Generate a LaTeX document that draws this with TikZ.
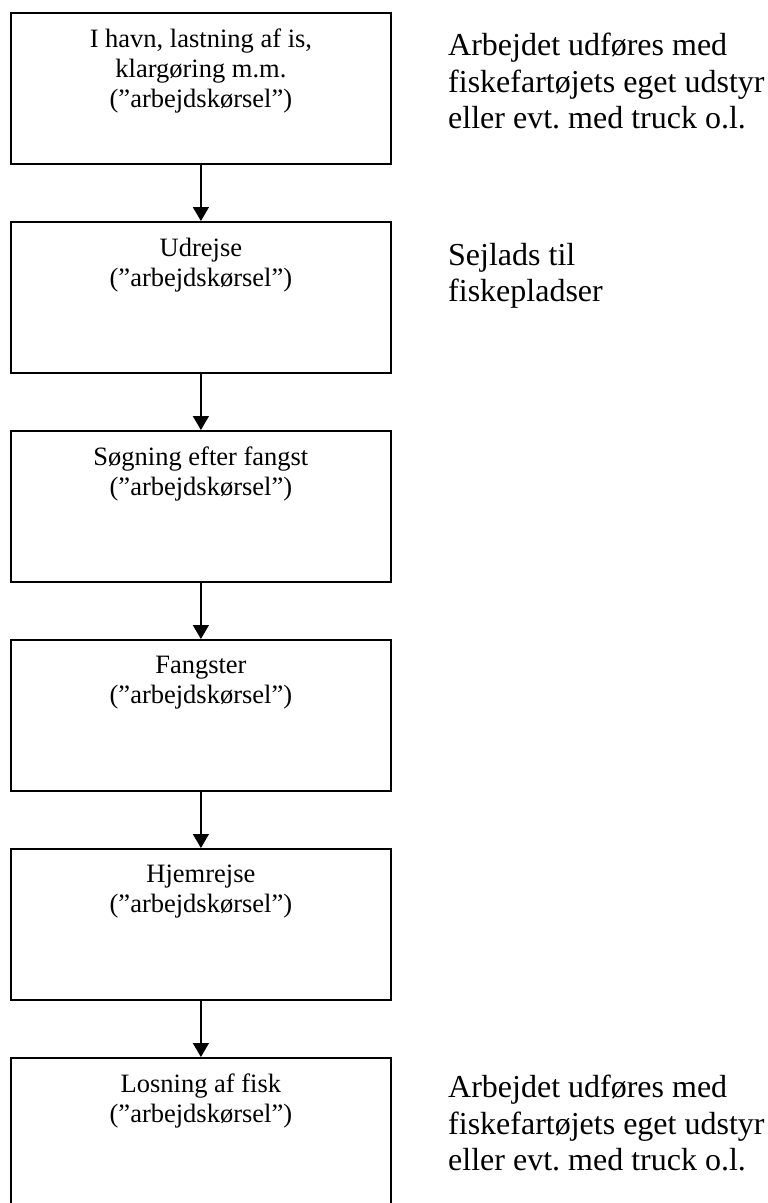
\documentclass[tikz,border=0pt]{standalone}
\usepackage{fontspec}
\setmainfont{Liberation Serif}
\usetikzlibrary{arrows.meta}
\frenchspacing

\tikzset{
  stepbox/.style={draw, line width=1.8pt, rectangle, minimum width=380pt,
    minimum height=151pt, anchor=north west, inner sep=0pt},
  boxtext/.style={anchor=north, align=center, inner sep=0pt,
    font=\fontsize{26.5pt}{30pt}\selectfont},
  sidetext/.style={anchor=north west, align=left, inner sep=0pt,
    font=\fontsize{32pt}{36.5pt}\selectfont},
  flow/.style={line width=1.4pt, -{Triangle[width=16pt,length=14pt]}}
}

\begin{document}
\begin{tikzpicture}[x=1pt,y=-1pt]
  \useasboundingbox (0,0) rectangle (768,1203);
  \begin{scope}
    \clip (0,0) rectangle (768,1203);

    % process boxes
    \node[stepbox] (b1) at (10,12)   {};
    \node[stepbox] (b2) at (10,221)  {};
    \node[stepbox] (b3) at (10,430)  {};
    \node[stepbox] (b4) at (10,639)  {};
    \node[stepbox] (b5) at (10,848)  {};
    \node[stepbox] (b6) at (10,1057) {};

    % box captions
    \node[boxtext] (t1) at ([yshift=-17pt]b1.north) {I havn, lastning af is,\\klargøring m.m.\\(”arbejdskørsel”)};
    \node[boxtext] (t2) at ([yshift=-17pt]b2.north) {Udrejse\\(”arbejdskørsel”)};
    \node[boxtext] (t3) at ([yshift=-17pt]b3.north) {Søgning efter fangst\\(”arbejdskørsel”)};
    \node[boxtext] (t4) at ([yshift=-17pt]b4.north) {Fangster\\(”arbejdskørsel”)};
    \node[boxtext] (t5) at ([yshift=-17pt]b5.north) {Hjemrejse\\(”arbejdskørsel”)};
    \node[boxtext] (t6) at ([yshift=-17pt]b6.north) {Losning af fisk\\(”arbejdskørsel”)};

    % flow arrows
    \draw[flow] (b1.south) -- (b2.north);
    \draw[flow] (b2.south) -- (b3.north);
    \draw[flow] (b3.south) -- (b4.north);
    \draw[flow] (b4.south) -- (b5.north);
    \draw[flow] (b5.south) -- (b6.north);

    % side notes
    \node[sidetext] (n1) at (448,33) {Arbejdet udføres med\\fiskefartøjets eget udstyr\\eller evt. med truck o.l.};
    \node[sidetext] (n2) at (448,243) {Sejlads til\\fiskepladser};
    \node[sidetext] (n3) at (448,1075) {Arbejdet udføres med\\fiskefartøjets eget udstyr\\eller evt. med truck o.l.};
  \end{scope}
\end{tikzpicture}
\end{document}
